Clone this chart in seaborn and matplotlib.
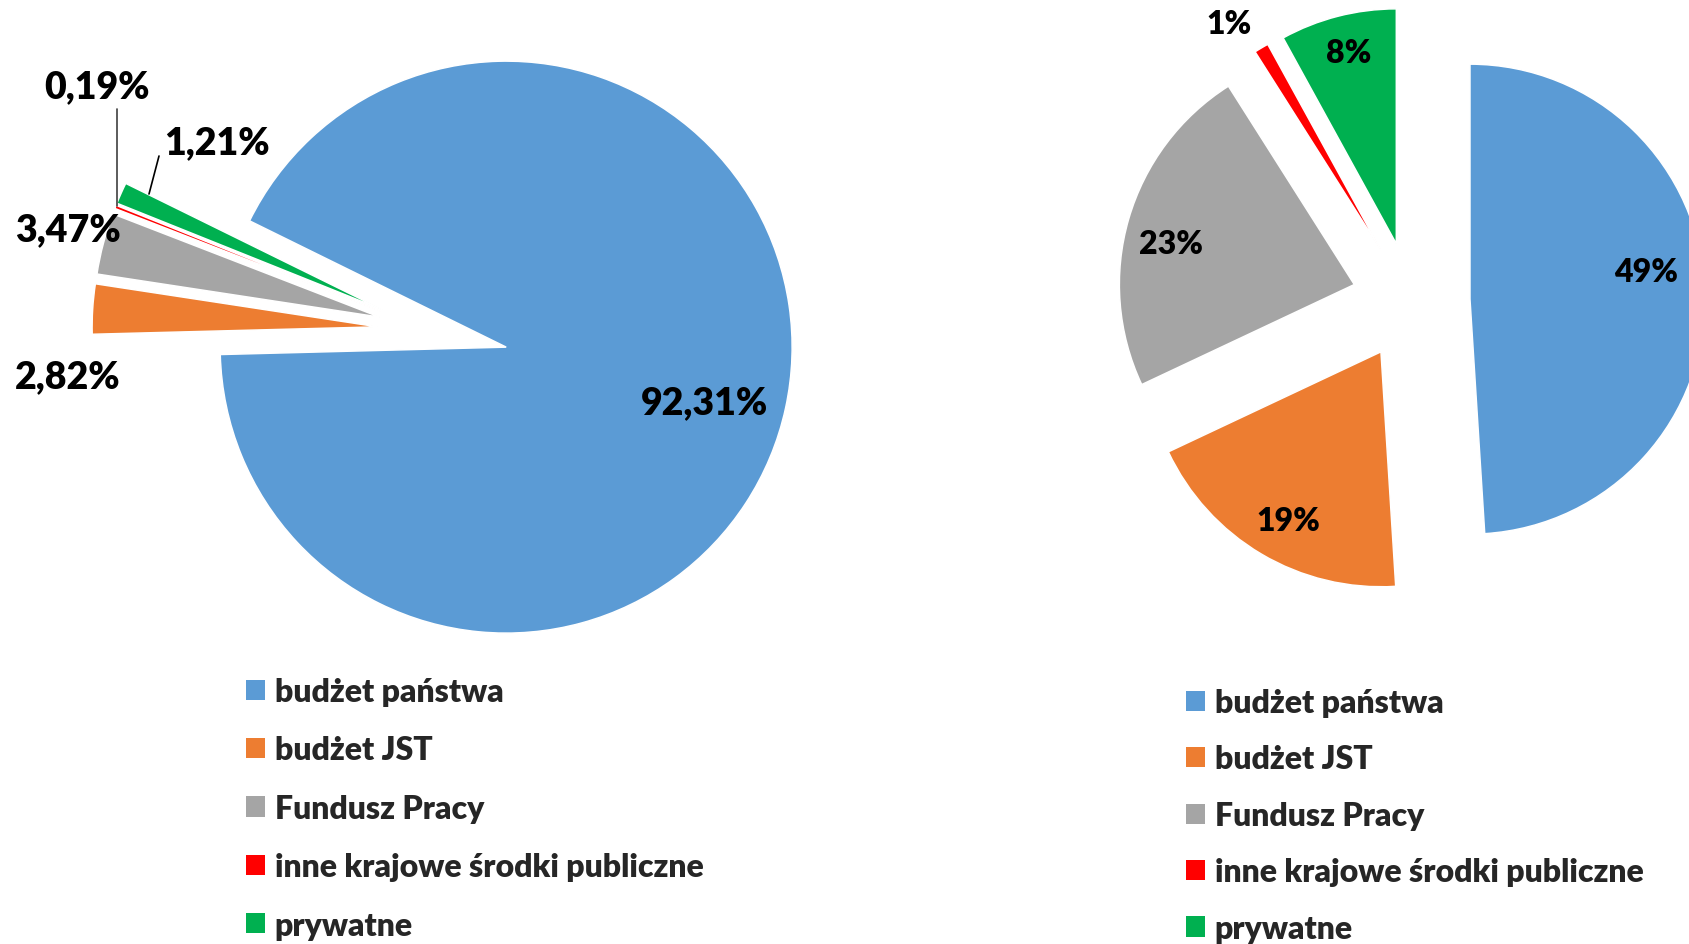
import numpy as np
import matplotlib.pyplot as plt
import seaborn as sns

# dane
kategorie = ["budżet państwa", "budżet JST", "Fundusz Pracy",
             "inne krajowe środki publiczne", "prywatne"]
udzial_lewy = [92.31, 2.82, 3.47, 0.19, 1.21]
etykiety_lewy = ["92,31%", "2,82%", "3,47%", "0,19%", "1,21%"]
udzial_prawy = [49, 19, 23, 1, 8]
etykiety_prawy = ["49%", "19%", "23%", "1%", "8%"]

kolory = sns.color_palette(["#5B9BD5", "#ED7D31", "#A5A5A5", "#FF0000", "#00B050"])

sns.set_theme(style="white")
plt.rcParams["font.family"] = ["Lato", "DejaVu Sans"]
plt.rcParams["font.weight"] = "heavy"

W, H = 1690, 945


def fy(y):
    # y w pikselach od góry -> y w danych od dołu
    return H - y


fig = plt.figure(figsize=(W / 100, H / 100), dpi=100)
ax = fig.add_axes([0, 0, 1, 1])

wedge_kw = dict(edgecolor="white", linewidth=1.1)

# lewy wykres
r1 = 286
wedges1, _ = ax.pie(udzial_lewy, colors=kolory, startangle=153.8, counterclock=False,
                    radius=r1, center=(428, fy(331)),
                    explode=[80, 50, 50, 50, 50],
                    wedgeprops=wedge_kw)

# prawy wykres
r2 = 235
wedges2, _ = ax.pie(udzial_prawy, colors=kolory, startangle=90, counterclock=False,
                    radius=r2, center=(1411, fy(302)),
                    explode=[59] * 5,
                    wedgeprops=wedge_kw)

# etykiety lewe
poz_lewy = [(705, 403), (68, 377), (68, 230), (97, 87), (217, 143)]
for (x, y), t in zip(poz_lewy, etykiety_lewy):
    ax.text(x, fy(y), t, ha="center", va="center", fontsize=27, fontweight="heavy",
            color="black")
# linie odniesienia
ax.plot([117, 117], [fy(110), fy(207)], color="#404040", lw=1.2)
ax.plot([159, 149], [fy(157), fy(195)], color="black", lw=1.2)

# etykiety prawe
poz_prawy = [(1646, 273), (1288, 522), (1171, 245), (1229, 25), (1349, 54)]
for (x, y), t in zip(poz_prawy, etykiety_prawy):
    ax.text(x, fy(y), t, ha="center", va="center", fontsize=23, fontweight="heavy",
            color="black")

ax.set_xlim(0, W)
ax.set_ylim(0, H)
ax.set_aspect("equal")
ax.axis("off")

leg_kw = dict(loc="upper left", frameon=False, borderpad=0, borderaxespad=0,
              handlelength=0.6, handleheight=0.6, handletextpad=0.3,
              bbox_transform=ax.transData,
              prop=dict(family="Lato", weight="heavy", size=23))

leg1 = ax.legend(wedges1, kategorie, bbox_to_anchor=(246, fy(678)),
                 labelspacing=0.92, **leg_kw)
for h in leg1.legend_handles:
    h.set_edgecolor("none")
ax.add_artist(leg1)
leg2 = ax.legend(wedges2, kategorie, bbox_to_anchor=(1186, fy(689)),
                 labelspacing=0.86, **leg_kw)
for h in leg2.legend_handles:
    h.set_edgecolor("none")

fig.savefig("out.png", dpi=100, facecolor="white")
